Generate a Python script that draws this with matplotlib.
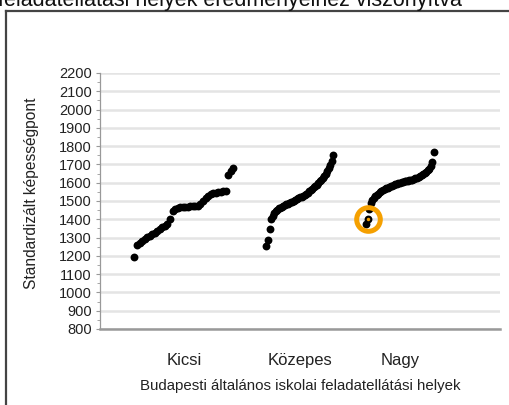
import matplotlib
matplotlib.use("Agg")
import matplotlib.pyplot as plt
import numpy as np
from matplotlib.lines import Line2D

plt.rcParams['font.family'] = ['Liberation Sans', 'DejaVu Sans']

categories = ["Kicsi", "Közepes", "Nagy"]
cat_pos = [184, 300, 400]
half_width = [49.5, 33.5, 34]

kicsi = [1195, 1262, 1272, 1283, 1293, 1302, 1310, 1318, 1325, 1335,
         1348, 1358, 1365, 1375, 1400, 1448, 1455, 1460, 1465, 1467,
         1468, 1469, 1470, 1470, 1471, 1473, 1482, 1498, 1515, 1530,
         1537, 1543, 1546, 1548, 1550, 1552, 1555, 1640, 1662, 1680]
kozepes = [1254, 1285, 1345, 1400, 1418, 1432, 1444, 1452, 1459, 1464,
           1469, 1473, 1477, 1481, 1485, 1489, 1493, 1497, 1501, 1506,
           1511, 1515, 1520, 1524, 1528, 1534, 1540, 1546, 1553, 1560,
           1567, 1574, 1581, 1589, 1598, 1607, 1616, 1627, 1638, 1650,
           1663, 1678, 1695, 1718, 1750]
nagy = [1372, 1400, 1455, 1490, 1505, 1516, 1526, 1534, 1541, 1547,
        1553, 1559, 1564, 1569, 1573, 1577, 1580, 1584, 1588, 1591,
        1594, 1597, 1600, 1603, 1605, 1607, 1609, 1611, 1613, 1615,
        1617, 1620, 1624, 1628, 1632, 1637, 1642, 1648, 1654, 1660,
        1667, 1676, 1690, 1712, 1768]
groups = [kicsi, kozepes, nagy]
highlight_group = 2
highlight_index = 1

yticks = list(range(800, 2201, 100))

W, H = 510, 405
fig = plt.figure(figsize=(W / 100, H / 100), dpi=100)
ax = fig.add_axes([100 / W, 1 - 329 / H, 400 / W, 256 / H])

for gi, (pos, hw, vals) in enumerate(zip(cat_pos, half_width, groups)):
    xs = np.linspace(pos - hw, pos + hw, len(vals))
    ax.scatter(xs, vals, s=32, color="black", zorder=3, linewidths=0)
    if gi == highlight_group:
        hx, hy = xs[highlight_index], vals[highlight_index]
        ax.plot([hx], [hy], marker="o", markersize=17, markerfacecolor="none",
                markeredgecolor="#f5a000", markeredgewidth=3.6, zorder=4)
        ax.plot([hx], [hy], marker="o", markersize=2.5, color="#f5a000",
                markeredgewidth=0, zorder=5)

ax.set_xlim(100, 500)
ax.set_ylim(800, 2200)
ax.set_yticks(yticks)
ax.set_yticks(list(range(850, 2200, 100)), minor=True)
ax.set_xticks(cat_pos)
ax.set_xticklabels(categories, fontsize=12, color="#222222")
ax.tick_params(axis="x", length=0, pad=17)
ax.tick_params(axis="y", which="major", length=3, width=0.8, color="#999999",
               labelsize=10.5, labelcolor="#222222", pad=3)
ax.tick_params(axis="y", which="minor", length=2, width=0.6, color="#999999")
ax.yaxis.grid(True, color="#e4e4e4", linewidth=1.8, zorder=0)
ax.set_axisbelow(True)
for s in ["top", "right"]:
    ax.spines[s].set_visible(False)
ax.spines["left"].set_color("#999999")
ax.spines["left"].set_linewidth(0.9)
ax.spines["bottom"].set_color("#999999")
ax.spines["bottom"].set_linewidth(1.8)

ax.set_ylabel("Standardizált képességpont", fontsize=11.2, color="#222222")
ax.yaxis.set_label_coords(-0.152, 0.531)
ax.set_xlabel("Budapesti általános iskolai feladatellátási helyek", fontsize=10.8,
              color="#222222", labelpad=8)

# Frame around the chart (only left and top edges visible)
fig.add_artist(Line2D([6 / W, 6 / W], [0, 1 - 11 / H], color="#444444", linewidth=1.6))
fig.add_artist(Line2D([6 / W, 1], [1 - 11 / H, 1 - 11 / H], color="#444444", linewidth=1.6))

# Partially cut title at the very top
fig.text(-2 / W, 1 - 6 / H, "feladatellátási helyek eredményeihez viszonyítva",
         fontsize=15.5, color="#111111", ha="left", va="baseline")

fig.savefig("out.png", dpi=100)
